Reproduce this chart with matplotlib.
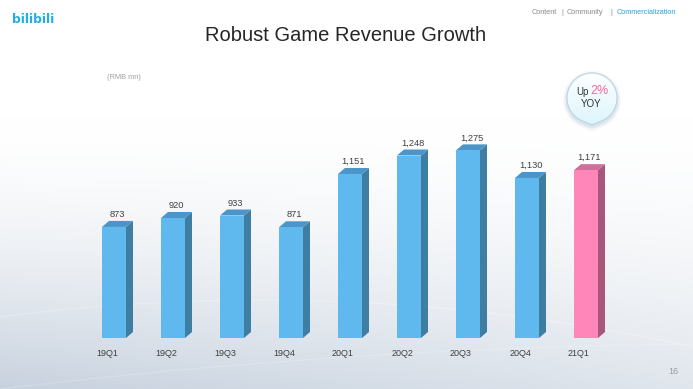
import numpy as np
import matplotlib
matplotlib.use('Agg')
import matplotlib.pyplot as plt
from matplotlib.patches import Polygon

# ---------------- data ----------------
categories = ['19Q1', '19Q2', '19Q3', '19Q4', '20Q1', '20Q2', '20Q3', '20Q4', '21Q1']
revenue = [873, 920, 933, 871, 1151, 1248, 1275, 1130, 1171]
value_labels = ['873', '920', '933', '871', '1,151', '1,248', '1,275', '1,130', '1,171']
highlight_index = 8
yoy_prefix = 'Up '
yoy_value = '2%'
yoy_suffix = 'YOY'
title = 'Robust Game Revenue Growth'
unit_label = '(RMB mn)'
nav_items = ['Content', '|', 'Community', '|', 'Commercialization']
page_number = '16'

plt.rcParams['font.family'] = ['Liberation Sans', 'DejaVu Sans']

W, H = 693, 389
fig = plt.figure(figsize=(W / 100, H / 100), dpi=100)

# ---------------- background ----------------
bg = fig.add_axes([0, 0, 1, 1], zorder=0)
bg.set_xlim(0, W)
bg.set_ylim(H, 0)
bg.axis('off')
yy = np.linspace(0, 1, 300)[:, None]
xx = np.linspace(0, 1, 400)[None, :]
t = np.clip((yy - 0.3) / 0.7, 0, 1) ** 1.6 * (1.0 - 0.45 * xx)
topc = np.array([1.0, 1.0, 1.0])
botc = np.array([0.78, 0.82, 0.87])
img = topc * (1 - t[..., None]) + botc * t[..., None]
bg.imshow(img, extent=[0, W, H, 0], aspect='auto', zorder=0, interpolation='bilinear')

# faint swooshes
sx = np.linspace(0, W, 200)
bg.plot(sx, 300 + 0.00025 * (sx - 260) ** 2, color='white', alpha=0.22, lw=1.0, zorder=1)
bg.plot(sx, 389 - 0.12 * sx + 0.00008 * sx ** 2, color='white', alpha=0.18, lw=0.9, zorder=1)

# logo
bg.text(12, 19, 'bilibili', fontsize=8.8, fontweight='bold', color='#23ade5',
        ha='left', va='center', family=['DejaVu Sans'], zorder=3)

# navigation
nav_x = [532, 561, 567, 610, 617]
for k, (lab, x) in enumerate(zip(nav_items, nav_x)):
    col = '#2aa3d8' if k == len(nav_items) - 1 else '#8a8a8a'
    bg.text(x, 12.5, lab, fontsize=5.2, color=col, ha='left', va='center', zorder=3)

# title
bg.text(346, 35, title, fontsize=14.5, color='#262626', ha='center', va='center', zorder=3)
# unit
bg.text(107, 77, unit_label, fontsize=5.3, color='#a0a0a0', ha='left', va='center', zorder=3)
# page number
bg.text(678, 371, page_number, fontsize=6.5, color='#9a9a9a', ha='right', va='center', zorder=3)

# ---------------- callout ----------------
cx, cy, r = 592, 98, 25
tip = (592, 125)
d = tip[1] - cy
alpha = np.arccos(r / d)
phis = np.linspace(alpha, 2 * np.pi - alpha, 120)
pts = [(cx + r * np.sin(p), cy + r * np.cos(p)) for p in phis]
pts.append(tip)
for k, (off, a) in enumerate([(4, 0.10), (2.5, 0.15), (1.2, 0.2)]):
    sh = Polygon([(cx + (x - cx) * (1 + off / r), y + 2 + (y - cy) * off / r) for x, y in pts],
                 closed=True, facecolor='#a9bdd2', edgecolor='none', alpha=a, zorder=3)
    bg.add_patch(sh)
drop = Polygon(pts, closed=True, facecolor='none', edgecolor='#b9d3e2', lw=0.8, zorder=5)
grad = np.linspace(0, 1, 100)[:, None] * np.ones((1, 10))
c1 = np.array([1.0, 1.0, 1.0]); c2 = np.array([0.86, 0.96, 0.99])
gimg = c1 * (1 - grad[..., None]) + c2 * grad[..., None]
im = bg.imshow(gimg, extent=[cx - r - 2, cx + r + 2, tip[1] + 1, cy - r - 1],
               aspect='auto', zorder=4)
fill_clip = Polygon(pts, closed=True, transform=bg.transData)
im.set_clip_path(fill_clip)
bg.add_patch(drop)
bg.text(588.5, 92, yoy_prefix.strip(), fontsize=7, color='#333333', ha='right', va='center', zorder=6)
bg.text(590, 91, yoy_value, fontsize=9, color='#f06a9b', ha='left', va='center', zorder=6)
bg.text(591.5, 104, yoy_suffix, fontsize=7, color='#333333', ha='center', va='center', zorder=6)

# ---------------- chart ----------------
base_px, top_px, left_px, right_px = 338, 60, 55, 645
base_val = 290
ppu = 0.1905  # pixels per value unit
ax = fig.add_axes([left_px / W, 1 - base_px / H, (right_px - left_px) / W, (base_px - top_px) / H],
                  zorder=2)
ax.patch.set_alpha(0)
ax.axis('off')
ax.set_xlim(-1, len(categories))
ax.set_ylim(base_val, base_val + (base_px - top_px) / ppu)

px_per_x = (right_px - left_px) / (len(categories) + 1)
bw = 24 / px_per_x
dx = 7 / px_per_x
dy = 6 / ppu

blue = dict(front='#5fb8ee', side='#3f7ea3', top='#4b95c8')
pink = dict(front='#ff86b8', side='#a8567c', top='#cf6f9a')

for i, (cat, v, lab) in enumerate(zip(categories, revenue, value_labels)):
    c = pink if i == highlight_index else blue
    x0, x1 = i - bw / 2, i + bw / 2
    ax.bar(i, v - base_val, bottom=base_val, width=bw, color=c['front'], edgecolor='none', zorder=3)
    side = Polygon([(x1, base_val), (x1, v), (x1 + dx, v + dy), (x1 + dx, base_val + dy)],
                   closed=True, facecolor=c['side'], edgecolor='none', zorder=2)
    topf = Polygon([(x0, v), (x1, v), (x1 + dx, v + dy), (x0 + dx, v + dy)],
                   closed=True, facecolor=c['top'], edgecolor='none', zorder=2)
    ax.add_patch(side)
    ax.add_patch(topf)
    ax.annotate(lab, (i + dx / 2, v + dy), xytext=(0, 2), textcoords='offset pixels',
                ha='center', va='bottom', fontsize=6.7, color='#404040', annotation_clip=False)
    ax.annotate(cat, (i - dx, base_val), xytext=(0, -15), textcoords='offset pixels',
                ha='center', va='center', fontsize=6.5, color='#404040', annotation_clip=False)

fig.savefig('out.png', dpi=100)
